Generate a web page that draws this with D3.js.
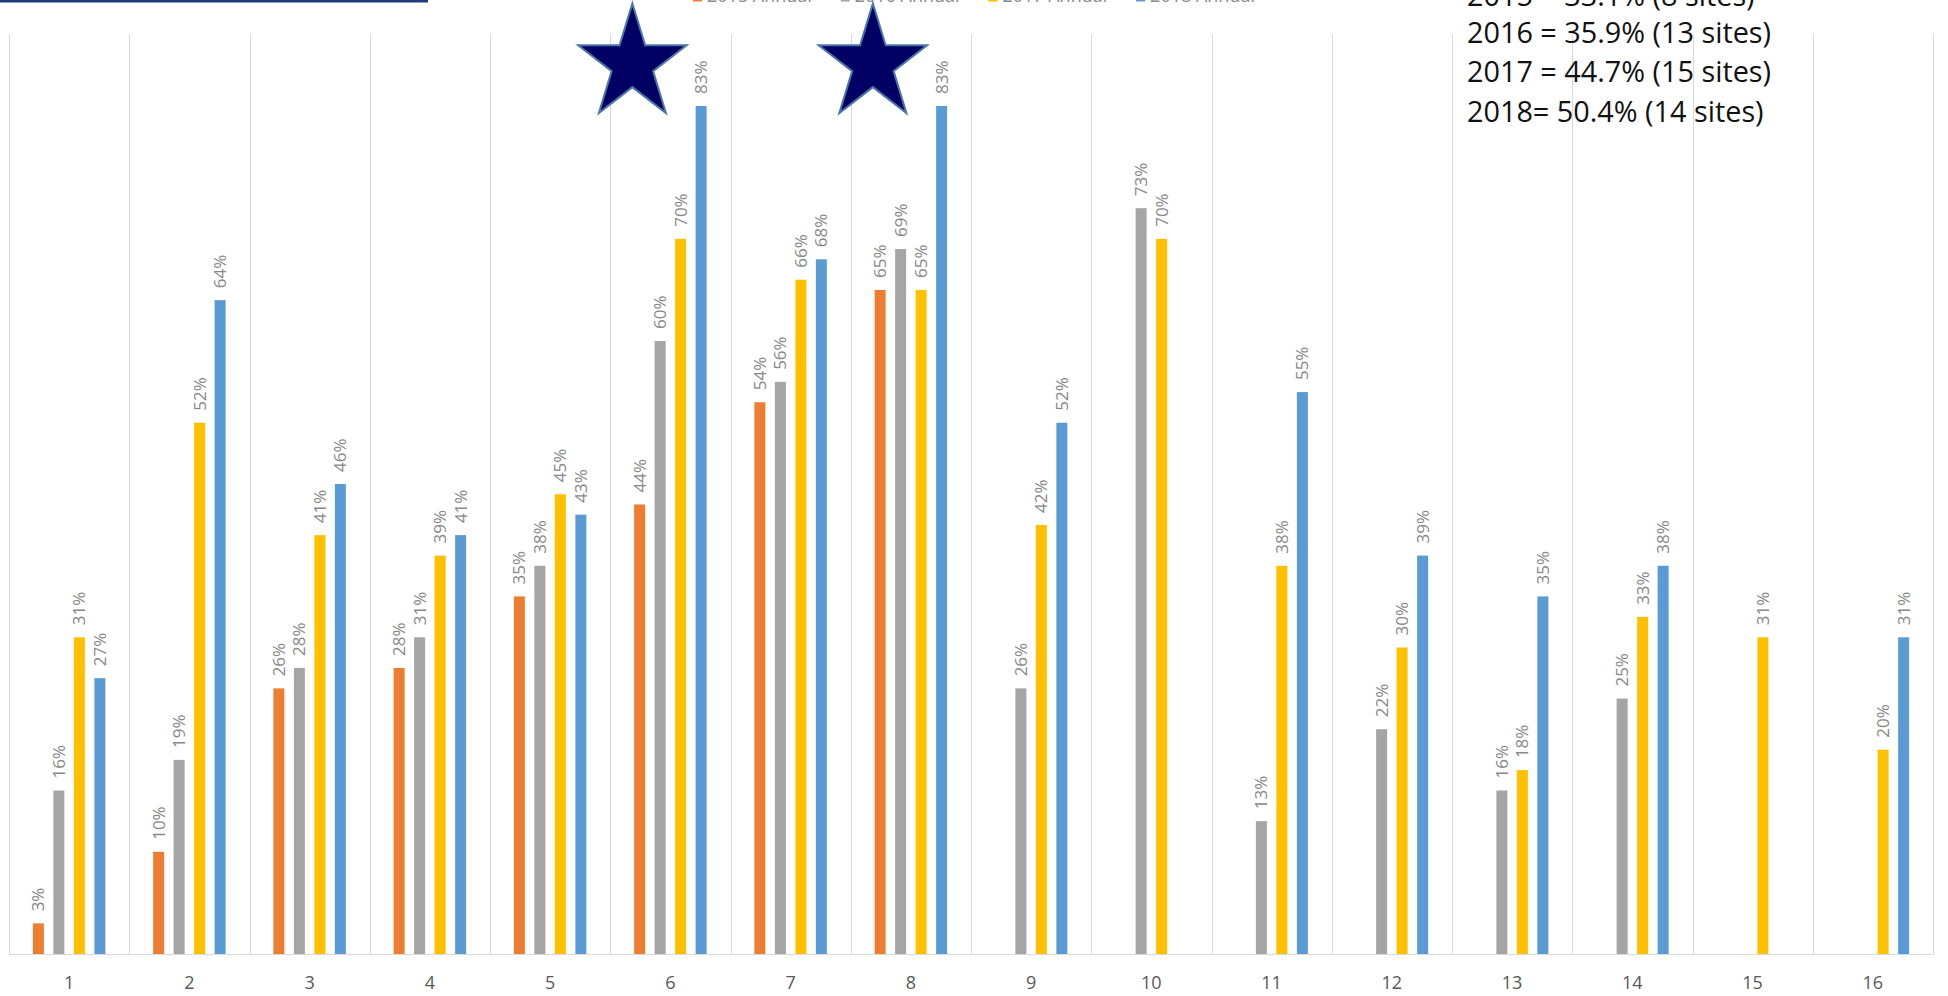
<!DOCTYPE html>
<html>
<head>
<meta charset="utf-8">
<script src="https://cdn.jsdelivr.net/npm/d3@7"></script>
<style>
  html, body { margin: 0; padding: 0; background: #ffffff; }
  svg { display: block; }
</style>
</head>
<body>
<svg id="chart" width="1948" height="996"></svg>
<script>
// ---------- DATA ----------
const categories = ["1","2","3","4","5","6","7","8","9","10","11","12","13","14","15","16"];
const seriesNames = ["2015 Annual","2016 Annual","2017 Annual","2018 Annual"];
const seriesColors = ["#ED7D31","#A5A5A5","#FFC000","#5B9BD5"];
const values2015 = [0.03,0.10,0.26,0.28,0.35,0.44,0.54,0.65,null,null,null,null,null,null,null,null];
const values2016 = [0.16,0.19,0.28,0.31,0.38,0.60,0.56,0.69,0.26,0.73,0.13,0.22,0.16,0.25,null,null];
const values2017 = [0.31,0.52,0.41,0.39,0.45,0.70,0.66,0.65,0.42,0.70,0.38,0.30,0.18,0.33,0.31,0.20];
const values2018 = [0.27,0.64,0.46,0.41,0.43,0.83,0.68,0.83,0.52,null,0.55,0.39,0.35,0.38,null,0.31];
const summaryLines = ["2015 = 33.1% (8 sites)","2016 = 35.9% (13 sites)","2017 = 44.7% (15 sites)","2018= 50.4% (14 sites)"];
const starCategories = ["6","8"];
const yMax = 0.9;

const allSeries = [values2015, values2016, values2017, values2018];

// ---------- LAYOUT ----------
const svg = d3.select("#chart");
const plotLeft = 9, plotRight = 1933, plotTop = 34.5, plotBottom = 954;

const x = d3.scaleBand().domain(categories).range([plotLeft, plotRight]).padding(0);
const y = d3.scaleLinear().domain([0, yMax]).range([plotBottom, plotTop]);
const groupWidth = 82;
const inner = d3.scaleBand().domain(seriesNames).range([0, groupWidth])
  .paddingInner(0.4634).paddingOuter(0.2317);

// gridlines (vertical, at category boundaries)
const bounds = categories.map(c => x(c)).concat([plotRight]);
svg.append("g").selectAll("line").data(bounds).join("line")
  .attr("x1", d => Math.round(d) + 0.5).attr("x2", d => Math.round(d) + 0.5)
  .attr("y1", plotTop).attr("y2", plotBottom)
  .attr("stroke", "#D9D9D9").attr("stroke-width", 1);

// baseline
svg.append("line")
  .attr("x1", plotLeft).attr("x2", plotRight + 1)
  .attr("y1", plotBottom + 0.5).attr("y2", plotBottom + 0.5)
  .attr("stroke", "#D9D9D9").attr("stroke-width", 1.2);

// bars + labels
const barData = [];
allSeries.forEach((vals, si) => {
  vals.forEach((v, ci) => {
    if (v !== null && v !== undefined) {
      barData.push({ cat: categories[ci], series: seriesNames[si], color: seriesColors[si], value: v });
    }
  });
});
const barX = d => x(d.cat) + x.bandwidth() / 2 - groupWidth / 2 + inner(d.series);

svg.append("g").selectAll("rect").data(barData).join("rect")
  .attr("x", barX)
  .attr("y", d => y(d.value))
  .attr("width", inner.bandwidth())
  .attr("height", d => y(0) - y(d.value))
  .attr("fill", d => d.color);

svg.append("g").selectAll("text").data(barData).join("text")
  .attr("transform", d => `translate(${barX(d) + inner.bandwidth() / 2},${y(d.value) - 12}) rotate(-90)`)
  .attr("dy", "0.35em")
  .attr("text-anchor", "start")
  .attr("font-family", "'Open Sans', sans-serif")
  .attr("font-size", 17)
  .attr("fill", "#888888")
  .text(d => Math.round(d.value * 100) + "%");

// category axis
const xAxis = d3.axisBottom(x).tickSize(0).tickPadding(22);
const gx = svg.append("g").attr("transform", `translate(0,${plotBottom})`).call(xAxis);
gx.select(".domain").remove();
gx.selectAll("text")
  .attr("font-family", "'Open Sans', sans-serif")
  .attr("font-size", 18)
  .attr("fill", "#595959");

// top-left rule
svg.append("rect").attr("x", 0).attr("y", 0).attr("width", 428).attr("height", 2.5).attr("fill", "#1F3C7A");

// legend (cut off at top edge, as in the reference)
const legendStart = 707, legendStep = 147.7;
const lg = svg.append("g");
seriesNames.forEach((name, i) => {
  const lx = legendStart + i * legendStep;
  lg.append("rect").attr("x", lx - 14).attr("y", -8).attr("width", 9).attr("height", 9.5).attr("fill", seriesColors[i]);
  lg.append("text").attr("x", lx).attr("y", 1.5)
    .attr("font-family", "'Open Sans', sans-serif").attr("font-size", 18).attr("fill", "#8a8a8a")
    .text(name);
});

// summary text (top right)
const summaryBaselines = [6, 43, 82, 121.5];
svg.append("g").selectAll("text").data(summaryLines).join("text")
  .attr("x", 1467)
  .attr("y", (d, i) => summaryBaselines[i])
  .attr("font-family", "'Open Sans', sans-serif")
  .attr("font-size", 28.8)
  .attr("fill", "#111111")
  .text(d => d);

// stars
function starPath(cx, cy, rx, ry) {
  const pts = [];
  for (let k = 0; k < 10; k++) {
    const ang = -Math.PI / 2 + k * Math.PI / 5;
    const r = k % 2 === 0 ? 1 : 0.382;
    pts.push([cx + rx * r * Math.cos(ang), cy + ry * r * Math.sin(ang)]);
  }
  return "M" + pts.map(p => p.join(",")).join("L") + "Z";
}
const starOffset = -38;
svg.append("g").selectAll("path").data(starCategories).join("path")
  .attr("d", c => starPath(x(c) + x.bandwidth() / 2 + starOffset, 64, 57, 60.5))
  .attr("fill", "#000064")
  .attr("stroke", "#4A76A8")
  .attr("stroke-width", 2);
</script>
</body>
</html>
